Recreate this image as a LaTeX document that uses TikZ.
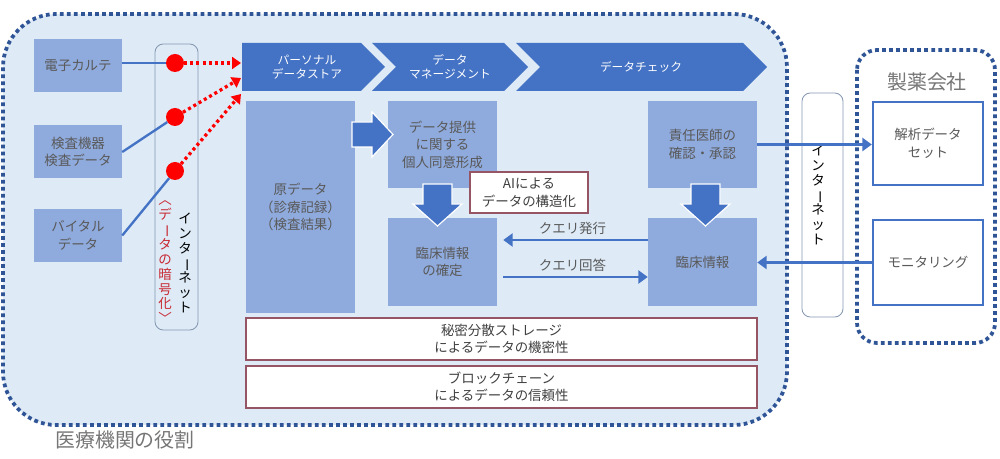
\documentclass[tikz,border=0pt]{standalone}
\usepackage{fontspec}
\usepackage{graphicx}
\setmainfont{Noto Sans CJK JP}
\usetikzlibrary{arrows.meta}

\definecolor{bgblue}{RGB}{222,235,247}
\definecolor{frameblue}{RGB}{47,85,151}
\definecolor{boxblue}{RGB}{143,170,220}
\definecolor{midblue}{RGB}{68,114,196}
\definecolor{txtgray}{RGB}{89,89,89}
\definecolor{lblgray}{RGB}{118,118,118}
\definecolor{brdred}{RGB}{150,85,100}
\definecolor{netgray}{RGB}{132,151,176}
\definecolor{cryptred}{RGB}{200,40,50}

\newcommand\tatebou{\rotatebox[origin=c]{-90}{ー}}

\tikzset{
    dotframe/.style={draw=frameblue, line width=3.2pt, dash pattern=on 3.2pt off 2.8pt},
    srcbox/.style={fill=boxblue, text=txtgray, align=center, inner sep=0pt,
        minimum width=2.64cm, minimum height=1.59cm, font=\fontsize{11.5}{15}\selectfont},
    box/.style={srcbox, minimum width=3.27cm, minimum height=2.62cm},
    redbox/.style={draw=brdred, line width=0.9pt, fill=white, text=black!75, align=center,
        inner sep=0pt, font=\fontsize{11.5}{15}\selectfont},
    outbox/.style={draw=midblue, line width=2pt, fill=white, text=txtgray, align=center,
        inner sep=0pt, minimum width=3.3cm, minimum height=2.49cm, font=\fontsize{11.5}{15}\selectfont},
    netbox/.style={draw=netgray, line width=0.7pt, rounded corners=0.25cm, inner sep=0pt},
    vtext/.style={align=center, inner sep=0pt, font=\fontsize{11.5}{12.6}\selectfont},
    chev/.style={fill=midblue},
    chevtext/.style={text=white, align=center, inner sep=0pt, font=\fontsize{10}{12}\selectfont},
    bigarrow/.style={fill=midblue, draw=white, line width=1pt, line join=miter},
    reddot/.style={circle, fill=red, inner sep=0pt, minimum size=0.54cm},
    lbl/.style={text=lblgray, inner sep=0pt, font=\fontsize{17}{20}\selectfont},
    feed/.style={midblue, line width=2pt},
    flow/.style={midblue, line width=2pt, -{Triangle[length=8pt,width=11pt]}},
    secure/.style={red, line width=2.8pt, dash pattern=on 2.6pt off 2.6pt,
        -{Triangle[length=7.5pt,width=10pt]}}
}

\begin{document}
\begin{tikzpicture}[x=0.03cm, y=-0.03cm]
    \useasboundingbox (0,0) rectangle (1000,459);

    % frames
    \draw[dotframe, fill=bgblue, rounded corners=1.6cm] (3,14) rectangle (787,425);
    \draw[dotframe, fill=white, rounded corners=0.6cm] (857,50) rectangle (995,343);
    \node[lbl] (iryo) at (125,440) {医療機関の役割};
    \node[lbl] (seiyaku) at (927,82) {製薬会社};

    % sources and encrypted internet
    \node[srcbox] (karte) at (78,65.5) {電子カルテ};
    \node[srcbox] (kensa) at (78,152) {検査機器\\検査データ};
    \node[srcbox] (vital) at (78,235.5) {バイタル\\データ};
    \node[netbox, fill=bgblue, minimum width=1.29cm, minimum height=8.58cm] (netL) at (176.5,187) {};
    \node[vtext] (netLt) at (185,263) {イ\\ン\\タ\\\tatebou\\ネ\\ッ\\ト};
    \node[vtext, text=cryptred] (crypt) at (165,262) {︿\\デ\\\tatebou\\タ\\の\\暗\\号\\化\\﹀};
    \node[reddot] (d1) at (175,63) {};
    \node[reddot] (d2) at (175,117) {};
    \node[reddot] (d3) at (175,171) {};
    \coordinate (in1) at (241,63);
    \coordinate (in2) at (241,78);
    \coordinate (in3) at (241,94);

    % chevrons
    \fill[chev] (242,43) -- (361,43) -- (385,67) -- (361,91) -- (242,91) -- cycle;
    \fill[chev] (372,43) -- (504,43) -- (528,67) -- (504,91) -- (372,91) -- (396,67) -- cycle;
    \fill[chev] (516,43) -- (743,43) -- (767,67) -- (743,91) -- (516,91) -- (540,67) -- cycle;
    \node[chevtext] (store) at (307,67) {パーソナル\\データストア};
    \node[chevtext] (manage) at (450,67) {データ\\マネージメント};
    \node[chevtext] (check) at (641,67) {データチェック};

    % medical institution
    \node[box, minimum height=6.36cm] (gen) at (300.5,207) {原データ\\（診療記録）\\（検査結果）};
    \node[box] (teikyo) at (442.5,144.5) {データ提供\\に関する\\個人同意形成};
    \node[box] (kakutei) at (442.5,262) {臨床情報\\の確定};
    \node[box] (sekinin) at (702.5,144.5) {責任医師の\\確認・承認};
    \node[box] (rinsho) at (702.5,262) {臨床情報};
    \node[redbox, minimum width=3.54cm, minimum height=1.23cm] (ai) at (529,192.5) {AIによる\\データの構造化};
    \node[redbox, minimum width=15.33cm, minimum height=1.26cm] (himitsu) at (501.5,339) {秘密分散ストレージ\\によるデータの機密性};
    \node[redbox, minimum width=15.33cm, minimum height=1.26cm] (chain) at (501.5,387) {ブロックチェーン\\によるデータの信頼性};

    % block arrows
    \filldraw[bigarrow] (352,122) -- (372,122) -- (372,112) -- (393,134.5) -- (372,157) -- (372,147) -- (352,147) -- cycle;
    \filldraw[bigarrow] (423,184) -- (452,184) -- (452,204) -- (462,204) -- (437.5,226) -- (413,204) -- (423,204) -- cycle;
    \filldraw[bigarrow] (691,184) -- (720,184) -- (720,204) -- (730,204) -- (705.5,226) -- (681,204) -- (691,204) -- cycle;

    % pharma side
    \node[netbox, fill=white, minimum width=1.23cm, minimum height=6.72cm] (netR) at (822.5,205) {};
    \node[vtext] (netRt) at (818,195) {イ\\ン\\タ\\\tatebou\\ネ\\ッ\\ト};
    \node[outbox] (kaiseki) at (928,143.5) {解析データ\\セット};
    \node[outbox, minimum height=2.55cm] (monitor) at (928,262.5) {モニタリング};

    % connectors
    \draw[feed] (karte.east |- d1) -- (d1);
    \draw[feed] (kensa.east) -- (d2);
    \draw[feed] (vital.east) -- (d3);
    \draw[secure] (d1) -- (in1);
    \draw[secure] (d2) -- (in2);
    \draw[secure] (d3) -- (in3);
    \coordinate (q1) at (0,240);
    \coordinate (q2) at (0,277);
    \draw[flow, shorten >=0.18cm] (rinsho.west |- q1) -- (kakutei.east |- q1)
        node[midway, above, text=txtgray, font=\fontsize{11.5}{14}\selectfont] (qa) {クエリ発行};
    \draw[flow, shorten <=0.18cm] (kakutei.east |- q2) -- (rinsho.west |- q2)
        node[midway, above, text=txtgray, font=\fontsize{11.5}{14}\selectfont] (qb) {クエリ回答};
    \draw[flow] (sekinin.east) -- (sekinin.east -| kaiseki.west);
    \draw[flow] (monitor.west) -- (monitor.west -| rinsho.east);
\end{tikzpicture}
\end{document}
